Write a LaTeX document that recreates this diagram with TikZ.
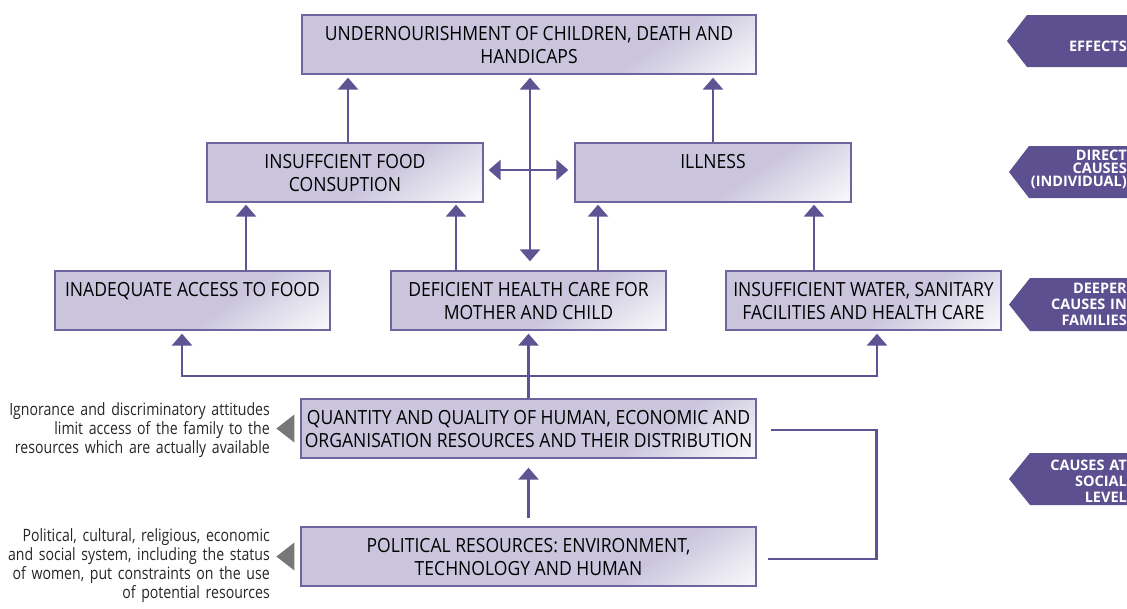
\documentclass[tikz,border=0pt]{standalone}
\usepackage{fontspec}
\setmainfont{Open Sans}
\newfontfamily\bxfont[FakeStretch=0.9]{Open Sans}
\newfontfamily\smfont[FakeStretch=0.83]{Open Sans}
\newfontfamily\tgfont{Open Sans}
\usetikzlibrary{arrows.meta,calc}
\definecolor{boxc}{HTML}{CAC5DD}
\definecolor{boxline}{HTML}{6F659E}
\definecolor{arrc}{HTML}{5E5494}
\definecolor{tagc}{HTML}{5D5090}
\definecolor{trig}{HTML}{777777}
\newcommand{\bt}[2]{\parbox[c][59pt][t]{#1pt}{\centering\rule{0pt}{25pt}#2}}
\tikzset{
  bx/.style={draw=boxline, line width=1.3pt, fill=boxc, inner sep=0pt,
    font=\bxfont\fontsize{19.5}{23}\selectfont,
    path picture={
      \foreach \k in {0,...,27}{
        \fill[white, fill opacity={0.9*(\k+1)/28}]
          ($(path picture bounding box.south east)+({-140+\k*5},0)$)
          -- ++(5.2,0) -- ++(90,-60) -- ++(-5.2,0) -- cycle;
      }
    }},
  arr/.style={draw=arrc, line width=2.7pt, -{Triangle[width=20pt,length=12pt]}},
  arrd/.style={draw=arrc, line width=2.7pt, {Triangle[width=20pt,length=12pt]}-{Triangle[width=20pt,length=12pt]}},
  ln/.style={draw=arrc, line width=2.7pt},
  lt/.style={font=\smfont\fontsize{17}{19}\selectfont, align=right, inner sep=0pt, text width=330pt, text=black!85},
  tg/.style={font=\tgfont\bfseries\fontsize{14.5}{16}\selectfont, text=white, align=right, inner sep=0pt, text width=110pt},
  tagshape/.style={fill=tagc},
  grtri/.style={fill=trig}
}
\begin{document}
\begin{tikzpicture}[x=1pt,y=-1pt]
\useasboundingbox (0,0) rectangle (1127,608);

% boxes
\node[bx] (eff) at (529,44.5) {\bt{454}{UNDERNOURISHMENT OF CHILDREN, DEATH AND\\HANDICAPS}};
\node[bx] (food) at (345,172.5) {\bt{276}{INSUFFCIENT FOOD\\CONSUPTION}};
\node[bx] (ill) at (713,172.5) {\bt{276}{ILLNESS}};
\node[bx] (inad) at (192.5,300.5) {\bt{275}{INADEQUATE ACCESS TO FOOD}};
\node[bx] (def) at (528.5,300.5) {\bt{275}{DEFICIENT HEALTH CARE FOR\\MOTHER AND CHILD}};
\node[bx] (water) at (863.5,300.5) {\bt{275}{INSUFFICIENT WATER, SANITARY\\FACILITIES AND HEALTH CARE}};
\node[bx] (qty) at (528.5,428.5) {\bt{455}{QUANTITY AND QUALITY OF HUMAN, ECONOMIC AND\\ORGANISATION RESOURCES AND THEIR DISTRIBUTION}};
\node[bx] (pol) at (528.5,556.5) {\bt{455}{POLITICAL RESOURCES: ENVIRONMENT,\\TECHNOLOGY AND HUMAN}};

% connectors
\draw[arr, shorten >=3pt] ([xshift=3pt]food.north) -- ([xshift=3pt]food.north |- eff.south);
\draw[arr, shorten >=3pt] (ill.north) -- (ill.north |- eff.south);
\draw[arrd, shorten <=3pt, shorten >=9pt] ([xshift=1pt]eff.south) -- ([xshift=1pt]eff.south |- def.north);
\draw[arrd, shorten <=5pt, shorten >=6pt] ([yshift=2.5pt]food.east) -- ([yshift=2.5pt]food.east -| ill.west);
\draw[arr, shorten >=2pt] ([xshift=53.5pt]inad.north) -- ([xshift=53.5pt]inad.north |- food.south);
\draw[arr, shorten >=2pt] ([xshift=-72.5pt]def.north) -- ([xshift=-72.5pt]def.north |- food.south);
\draw[arr, shorten >=2pt] ([xshift=69.5pt]def.north) -- ([xshift=69.5pt]def.north |- ill.south);
\draw[arr, shorten >=2pt] ([xshift=-49.5pt]water.north) -- ([xshift=-49.5pt]water.north |- ill.south);
\draw[arr, shorten >=3pt] (qty.north) -- (def.south);
\coordinate (hL) at (182,376);
\coordinate (hR) at (877,376);
\draw[arrd, shorten <=3pt, shorten >=3pt] (hL |- inad.south) -- (hL) -- (hR) -- (hR |- water.south);
\draw[arr, shorten <=8pt, shorten >=9pt] (pol.north) -- (qty.south);
\draw[ln] ([xshift=14pt,yshift=-1.5pt]qty.east) -| ([xshift=120pt,yshift=-2.5pt]pol.east) -- ([xshift=11pt,yshift=-2.5pt]pol.east);

% grey pointers and side notes
\fill[grtri] ([xshift=-6pt,yshift=14pt]qty.west) -- ([xshift=-6pt,yshift=-14pt]qty.west) -- ([xshift=-24pt]qty.west) -- cycle;
\fill[grtri] ([xshift=-6pt,yshift=14pt]pol.west) -- ([xshift=-6pt,yshift=-14pt]pol.west) -- ([xshift=-24pt]pol.west) -- cycle;
\node[lt, anchor=north east] (note1) at (270,402.5) {Ignorance and discriminatory attitudes\\limit access of the family to the\\resources which are actually available};
\node[lt, anchor=north east] (note2) at (270,528.5) {Political, cultural, religious, economic\\and social system, including the status\\of women, put constraints on the use\\of potential resources};

% level tags
\fill[tagshape] (1007,41) -- (1027,15) -- (1127,15) -- (1127,67) -- (1027,67) -- cycle;
\fill[tagshape] (1009,172) -- (1029,146) -- (1127,146) -- (1127,198) -- (1029,198) -- cycle;
\fill[tagshape] (1009,304.5) -- (1030,278) -- (1127,278) -- (1127,331) -- (1030,331) -- cycle;
\fill[tagshape] (1009,479) -- (1030,453) -- (1127,453) -- (1127,505) -- (1030,505) -- cycle;
\node[tg, anchor=north east] (t1) at (1127,41) {EFFECTS};
\node[tg, anchor=north east, font=\tgfont\bfseries\fontsize{14.5}{13}\selectfont] (t2) at (1127,150) {DIRECT\\CAUSES\\(INDIVIDUAL)};
\node[tg, anchor=north east] (t3) at (1127,283) {DEEPER\\CAUSES IN\\FAMILIES};
\node[tg, anchor=north east] (t4) at (1127,460) {CAUSES AT\\SOCIAL\\LEVEL};
\end{tikzpicture}
\end{document}
